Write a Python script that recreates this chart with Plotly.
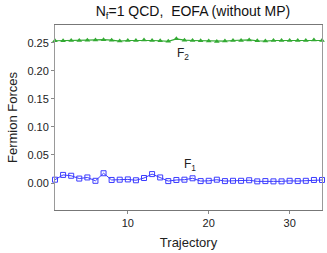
import plotly.graph_objects as go

traj = list(range(1, 35))
f1 = [0.006, 0.0145, 0.013, 0.008, 0.010, 0.004, 0.0175, 0.0055, 0.006, 0.0065,
      0.005, 0.009, 0.016, 0.010, 0.0035, 0.0055, 0.006, 0.0085, 0.0035, 0.004,
      0.006, 0.0035, 0.004, 0.004, 0.005, 0.003, 0.0035, 0.003, 0.003, 0.004,
      0.0035, 0.004, 0.0055, 0.0055]
f2 = [0.2535, 0.2535, 0.254, 0.254, 0.2545, 0.255, 0.2555, 0.2545, 0.253, 0.254,
      0.254, 0.255, 0.254, 0.2535, 0.2525, 0.257, 0.2545, 0.254, 0.2535, 0.253,
      0.2523, 0.253, 0.254, 0.254, 0.255, 0.2535, 0.253, 0.254, 0.254, 0.254,
      0.254, 0.254, 0.2547, 0.254]

font = "Liberation Sans, Arial, sans-serif"
fig = go.Figure()
fig.add_trace(go.Scatter(x=traj, y=f2, mode="lines+markers",
                         line=dict(color="#33aa33", width=1.2),
                         marker=dict(symbol="triangle-up", size=5, color="#33aa33"),
                         cliponaxis=False, showlegend=False))
fig.add_trace(go.Scatter(x=traj, y=f1, mode="lines+markers",
                         line=dict(color="#3c3cff", width=1),
                         marker=dict(symbol="square-open", size=5, color="#3c3cff", line=dict(width=1)),
                         cliponaxis=False, showlegend=False))
fig.add_annotation(x=16.8, y=0.2300, text="F<sub>2</sub>", showarrow=False,
                   font=dict(family=font, size=12, color="#222"))
fig.add_annotation(x=17.7, y=0.0315, text="F<sub>1</sub>", showarrow=False,
                   font=dict(family=font, size=12, color="#222"))
fig.update_layout(
    width=327, height=253,
    margin=dict(l=55, r=5, t=25, b=43),
    paper_bgcolor="white", plot_bgcolor="white",
    title=dict(text="N<sub>f</sub>=1 QCD,  EOFA (without MP)", x=0.59, xanchor="center",
               y=0.955, yanchor="middle", font=dict(family=font, size=14, color="#111")),
    font=dict(family=font, size=11, color="#222"),
)
fig.update_xaxes(range=[1, 34], tickvals=[10, 20, 30], ticks="outside", ticklen=3,
                 tickcolor="#888", showline=True, linecolor="#777", mirror=True,
                 showgrid=False, zeroline=False,
                 title=dict(text="Trajectory", font=dict(family=font, size=13), standoff=9),
                 tickfont=dict(family=font, size=11))
fig.update_yaxes(range=[-0.048, 0.2816], tickvals=[0, 0.05, 0.10, 0.15, 0.20, 0.25],
                 tickformat=".2f", ticks="outside", ticklen=3, tickcolor="#888",
                 showline=True, linecolor="#999", mirror=True,
                 showgrid=False, zeroline=False,
                 title=dict(text="Fermion Forces", font=dict(family=font, size=13), standoff=6),
                 tickfont=dict(family=font, size=11))
fig.write_html("out.html", config={"displayModeBar": False},
               post_script="document.body.style.margin='0';document.body.style.overflow='hidden';")
